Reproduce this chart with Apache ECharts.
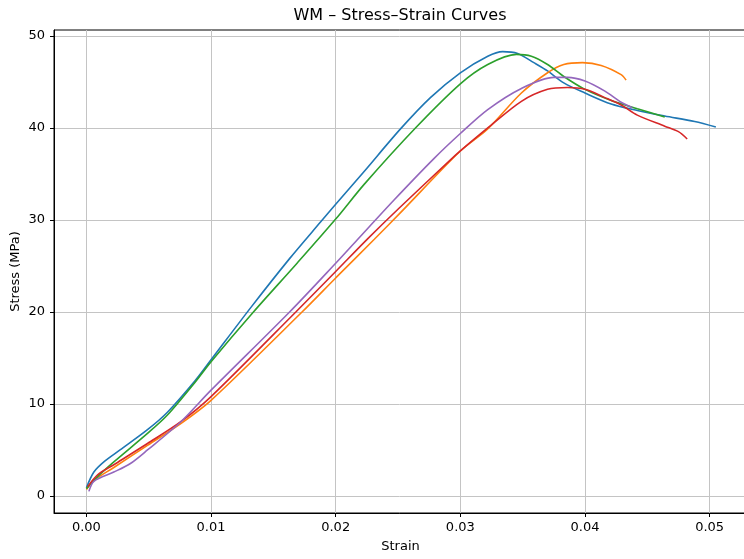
<!DOCTYPE html>
<html>
<head>
<meta charset="utf-8">
<script src="https://cdn.jsdelivr.net/npm/echarts@6/dist/echarts.min.js"></script>
<style>
html,body{margin:0;padding:0;background:#fff;}
#chart{width:744px;height:559px;}
</style>
</head>
<body>
<div id="chart"></div>
<script>
// 应力-应变曲线 (strain, stress MPa)
var sample1 = [[0.0000,0.9],[0.0006,2.6],[0.0014,3.7],[0.0027,5.0],[0.0049,7.2],[0.0065,9.1],[0.0087,12.5],[0.0100,14.8],[0.0132,20.5],[0.0163,25.8],[0.0188,29.8],[0.0200,31.7],[0.0223,35.3],[0.0252,39.9],[0.0276,43.3],[0.0300,46.0],[0.0322,47.8],[0.0334,48.3],[0.0346,48.1],[0.0359,47.1],[0.0370,46.2],[0.0383,44.9],[0.0400,43.8],[0.0421,42.6],[0.0442,41.9],[0.0464,41.3],[0.0488,40.7],[0.0505,40.1]];
var sample2 = [[0.0000,0.7],[0.0006,1.7],[0.0022,3.1],[0.0049,5.5],[0.0076,7.9],[0.0100,10.4],[0.0173,20.0],[0.0200,23.7],[0.0231,27.9],[0.0252,30.8],[0.0300,37.5],[0.0322,39.9],[0.0349,43.8],[0.0370,46.0],[0.0383,46.9],[0.0398,47.1],[0.0413,46.8],[0.0429,45.8],[0.0433,45.2]];
var sample3 = [[0.0000,0.8],[0.0009,2.1],[0.0022,3.7],[0.0049,6.8],[0.0065,8.8],[0.0088,12.5],[0.0100,14.6],[0.0134,20.0],[0.0169,25.3],[0.0200,30.1],[0.0223,33.9],[0.0264,40.0],[0.0300,44.8],[0.0322,46.9],[0.0345,48.0],[0.0357,47.8],[0.0370,46.9],[0.0383,45.6],[0.0400,44.2],[0.0421,43.0],[0.0442,42.1],[0.0464,41.2]];
var sample4 = [[0.0001,1.0],[0.0009,2.3],[0.0022,3.4],[0.0049,5.7],[0.0076,8.1],[0.0100,10.8],[0.0168,20.0],[0.0200,24.4],[0.0226,28.0],[0.0251,31.3],[0.0291,36.4],[0.0300,37.5],[0.0322,40.0],[0.0349,42.9],[0.0370,44.2],[0.0386,44.4],[0.0400,44.2],[0.0416,43.3],[0.0429,42.5],[0.0442,41.4],[0.0464,40.2],[0.0475,39.6],[0.0482,38.8]];
var sample5 = [[0.0002,0.5],[0.0006,1.6],[0.0022,2.6],[0.0035,3.5],[0.0049,5.0],[0.0076,8.1],[0.0100,11.5],[0.0163,20.0],[0.0200,25.3],[0.0217,27.8],[0.0247,32.2],[0.0279,36.7],[0.0300,39.4],[0.0322,42.0],[0.0349,44.3],[0.0375,45.5],[0.0386,45.5],[0.0400,45.1],[0.0416,44.0],[0.0429,42.8],[0.0438,42.2]];

var xTicks = [0, 0.01, 0.02, 0.03, 0.04, 0.05];
var yTicks = [0, 10, 20, 30, 40, 50];
var colors = ['#1f77b4','#ff7f0e','#2ca02c','#d62728','#9467bd'];

var chart = echarts.init(document.getElementById("chart"));

function mkSeries(data, i){
    return {
        type: 'line',
        data: data,
        showSymbol: false,
        smooth: 0.3,
        lineStyle: { width: 1.6, color: colors[i] },
        itemStyle: { color: colors[i] },
        z: 3
    };
}

var font = 'DejaVu Sans';

option = {
    animation: false,
    backgroundColor: '#fff',
    title: {
        text: 'WM – Stress–Strain Curves',
        left: 400,
        top: 8,
        padding: 0,
        textAlign: 'center',
        textStyle: { fontFamily: font, fontSize: 16, fontWeight: 'normal', color: '#000' }
    },
    grid: {
        left: 54, top: 30, width: 693, height: 483,
        outerBoundsMode: 'none',
        show: true, borderColor: '#000', borderWidth: 1,
        containLabel: false
    },
    xAxis: {
        type: 'value',
        min: -0.0026, max: 0.053,
        name: 'Strain',
        nameLocation: 'middle',
        nameGap: 27,
        nameMoveOverlap: false,
        nameTextStyle: { fontFamily: font, fontSize: 13, color: '#000' },
        axisLine: { show: true, onZero: false, lineStyle: { color: '#000', width: 1 } },
        axisTick: { show: true, length: 4, lineStyle: { color: '#000' }, customValues: xTicks },
        axisLabel: {
            fontFamily: font, fontSize: 13, color: '#000', margin: 8,
            customValues: xTicks,
            formatter: function(v){ return v.toFixed(2); }
        },
        splitLine: { show: true, lineStyle: { color: '#c4c4c4', width: 1 } }
    },
    yAxis: {
        type: 'value',
        min: -1.85, max: 50.65,
        name: 'Stress (MPa)',
        nameLocation: 'middle',
        nameGap: 32,
        nameMoveOverlap: false,
        nameTextStyle: { fontFamily: font, fontSize: 13, color: '#000' },
        axisLine: { show: true, onZero: false, lineStyle: { color: '#000', width: 1 } },
        axisTick: { show: true, length: 4, lineStyle: { color: '#000' }, customValues: yTicks },
        axisLabel: {
            fontFamily: font, fontSize: 13, color: '#000', margin: 9,
            customValues: yTicks
        },
        splitLine: { show: true, lineStyle: { color: '#c4c4c4', width: 1 } }
    },
    series: [
        mkSeries(sample1, 0),
        mkSeries(sample2, 1),
        mkSeries(sample3, 2),
        mkSeries(sample4, 3),
        mkSeries(sample5, 4)
    ]
};

chart.setOption(option);
</script>
</body>
</html>
